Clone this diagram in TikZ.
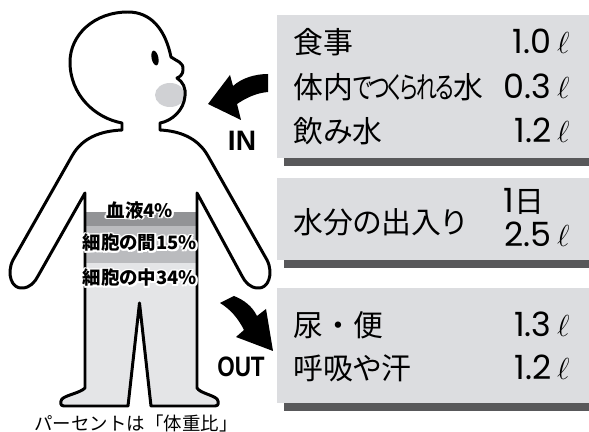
\documentclass[tikz,border=0pt]{standalone}
\usepackage{fontspec}
\newfontfamily\jpfont[RawFeature=+palt]{Noto Sans CJK JP}
\newfontfamily\jpwide{Noto Sans CJK JP}
\newfontfamily\numfont{Poppins}
\newfontfamily\inoutfont{Liberation Sans}
% tighter kana inside a line
\newcommand\kana[1]{{\addfontfeatures{LetterSpace=-25}#1}}
\newcommand\narrowkana[1]{\scalebox{0.7}[1]{\addfontfeatures{LetterSpace=-10}#1}}

\definecolor{boxgray}{RGB}{220,221,224}
\definecolor{shadowgray}{RGB}{88,88,90}
\definecolor{bloodgray}{RGB}{146,147,150}
\definecolor{gapgray}{RGB}{186,187,190}
\definecolor{cellgray}{RGB}{228,229,231}
\definecolor{mouthgray}{RGB}{208,209,212}

\tikzset{
  item/.style={anchor=base west,inner sep=0pt,font=\jpfont\fontsize{17}{17}\selectfont},
  amount/.style={anchor=base east,inner sep=0pt,font=\numfont\fontsize{19}{19}\selectfont},
  share/.style={inner sep=0pt,font=\jpfont\bfseries\fontsize{10.5}{10.5}\selectfont},
  inout/.style={inner sep=0pt,font=\inoutfont\bfseries\fontsize{16}{16}\selectfont},
  outline/.style={line width=1.7pt,line join=round}
}

\begin{document}
\begin{tikzpicture}[x=0.02cm,y=-0.02cm]
\useasboundingbox (0,0) rectangle (589,432);

% the body, from the left side of the neck round to the chin
\def\bodypath{(122,123) -- (122,130)
  .. controls (100,131) and (82,138) .. (72,156)
  -- (13,260)
  .. controls (6,274) and (12,289) .. (22,288)
  .. controls (30,288) and (35,282) .. (38,276)
  -- (85,193) -- (85,388)
  .. controls (80,393) and (66,395) .. (62,399)
  .. controls (60,402) and (60,406) .. (64,406)
  -- (128,406) -- (139.5,303) -- (151,406) -- (215,406)
  .. controls (219,406) and (219,402) .. (217,399)
  .. controls (213,395) and (200,393) .. (197,388)
  -- (197,193) -- (242,276)
  .. controls (245,282) and (250,288) .. (258,288)
  .. controls (268,289) and (274,274) .. (267,260)
  -- (208,156)
  .. controls (198,138) and (180,131) .. (160,130)
  -- (160,123)
  .. controls (172,121) and (184,110) .. (185,96)
  .. controls (186,88) and (183,82) .. (177,78)
  .. controls (180,77) and (183,74) .. (183,70)
  .. controls (184,62) and (176,61) .. (171,57)
  .. controls (165,28) and (150,12) .. (128,12)
  .. controls (94,12) and (70,35) .. (70,62)
  .. controls (70,95) and (95,118) .. (122,123) -- cycle}

% the water layers inside the trunk and legs
\begin{scope}
  \clip \bodypath;
  \fill[bloodgray] (85,212) rectangle (197,226);
  \fill[gapgray] (85,226) rectangle (197,263);
  \fill[cellgray] (52,263) rectangle (228,420);
\end{scope}
% mouth and eye
\fill[mouthgray] (170,95) ellipse [x radius=15, y radius=12];
\fill[rotate around={12:(155,58)}] (155,58) ellipse [x radius=3.4, y radius=7.5];
\draw[outline] \bodypath;

% labels on the layers, with a white rim
\coordinate (blood) at (140,210);
\coordinate (between) at (140,243);
\coordinate (inside) at (140,278);
\foreach \p/\t in {blood/{血液4\%},between/{細胞の間15\%},inside/{細胞の中34\%}}
{
  \foreach \a in {0,45,...,315}
    \node[share,text=white] at ([shift={(\a:1.1pt)}]\p) {\t};
  \node[share] (\p-label) at (\p) {\t};
}
\node[inner sep=0pt,font=\jpwide\fontsize{10.5}{10.5}\selectfont] (note) at (136,423) {パーセントは「体重比」};

% IN arrow
\fill (268,74) .. controls (255,74) and (242,78) .. (233,86)
  -- (230,75) -- (208,104) -- (241,120) -- (237,104)
  .. controls (246,98) and (256,93) .. (268,92) -- cycle;
\node[inout] (in) at (242,141) {IN};
% OUT arrow
\fill (220,303) -- (234,296)
  .. controls (244,300) and (252,306) .. (257,316)
  -- (266,309) -- (273,351) -- (236,337) -- (244,330)
  .. controls (238,318) and (230,309) .. (220,303) -- cycle;
\node[inout] (out) at (241,367) {\scalebox{0.8}[1]{OUT}};

% the three boxes with their shadows
\foreach \top/\bot in {15/158,178/260,288/403}
{
  \fill[shadowgray] (284,\bot-10) rectangle (589,\bot+8);
  \fill[boxgray] (277,\top) rectangle (589,\bot);
}

% water taken in
\node[item] (food) at (293,54) {食事};
\node[amount] (food-amt) at (570,54) {1.0\,$\ell$};
\node[item] (made) at (293,99) {体内\narrowkana{でつくられる}水};
\node[amount] (made-amt) at (570,99) {0.3\,$\ell$};
\node[item] (drink) at (293,143) {飲\kana{み}水};
\node[amount] (drink-amt) at (570,143) {1.2\,$\ell$};
% daily turnover
\node[item] (turnover) at (293,234) {水分の出入り};
\node[anchor=base west,inner sep=0pt,font=\numfont\fontsize{19}{19}\selectfont] (day) at (503,213) {1{\jpfont\fontsize{17}{17}\selectfont 日}};
\node[amount] (total) at (570,247) {2.5\,$\ell$};
% water given off
\node[item,font=\jpwide\fontsize{17}{17}\selectfont] (urine) at (293,337) {尿・便};
\node[amount] (urine-amt) at (570,337) {1.3\,$\ell$};
\node[item] (sweat) at (293,380) {呼吸や汗};
\node[amount] (sweat-amt) at (570,380) {1.2\,$\ell$};
\end{tikzpicture}
\end{document}
